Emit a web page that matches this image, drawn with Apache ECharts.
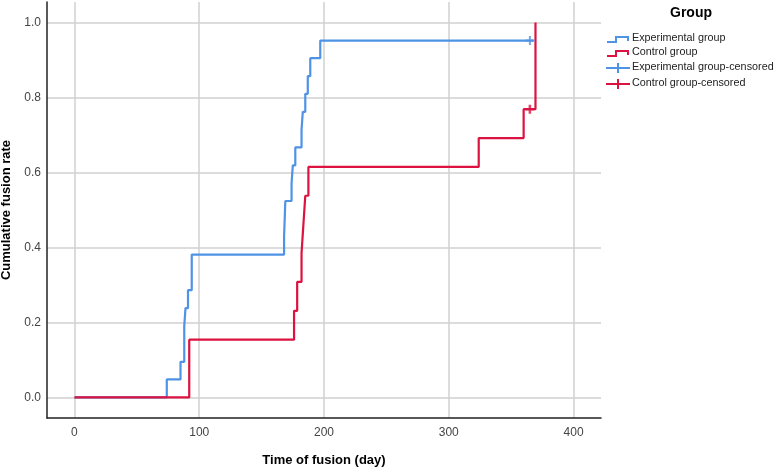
<!DOCTYPE html>
<html>
<head>
<meta charset="utf-8">
<script src="https://cdn.jsdelivr.net/npm/echarts@6/dist/echarts.min.js"></script>
<style>
  html, body { margin: 0; padding: 0; background: #fff; }
  #main { width: 777px; height: 467px; }
</style>
</head>
<body>
<div id="main"></div>
<script>
// Experimental group: event times (day) and cumulative fusion rate after each event
var expTimes = [0, 74, 85, 88, 89, 91, 94, 168, 169, 174, 175, 177, 182, 183, 185, 187, 189, 197, 368]
var expRates = [0, 0.048, 0.095, 0.190, 0.238, 0.286, 0.381, 0.429, 0.524, 0.571, 0.619, 0.667, 0.714, 0.762, 0.810, 0.857, 0.905, 0.952, 0.952]
// Control group
var ctrlTimes = [0, 92, 176, 178.5, 182, 183.5, 185, 187.5, 324, 360, 369.5]
var ctrlRates = [0, 0.154, 0.231, 0.308, 0.385, 0.462, 0.538, 0.615, 0.692, 0.769, 1.0]
// censored cases
var expCensorTimes = [365]
var expCensorRates = [0.952]
var ctrlCensorTimes = [365]
var ctrlCensorRates = [0.769]

var xTicks = [0, 100, 200, 300, 400]
var yTicks = [0, 0.2, 0.4, 0.6, 0.8, 1.0]

var blue = '#4f93e6'
var red = '#dc1340'
var plus = 'path://M0,5 L10,5 M5,0 L5,10'

function pairs(xs, ys) {
  return xs.map(function (x, i) { return [x, ys[i]] })
}

var chart = echarts.init(document.getElementById('main'))
var fontFamily = '"Liberation Sans", Arial, sans-serif'

chart.setOption({
  animation: false,
  textStyle: { fontFamily: fontFamily },
  grid: { left: 47, right: 176, top: 2, bottom: 49, containLabel: false, outerBoundsMode: 'none' },
  xAxis: {
    type: 'value',
    min: -22,
    max: 422,
    name: 'Time of fusion (day)',
    nameLocation: 'middle',
    nameGap: 36,
    nameTextStyle: { fontSize: 13, fontWeight: 'bold', color: '#000' },
    axisLine: { show: true, onZero: false, lineStyle: { color: '#222', width: 1.5 } },
    axisTick: { show: false, customValues: xTicks },
    axisLabel: { customValues: xTicks, color: '#444', fontSize: 12, margin: 9 },
    splitLine: { show: true, lineStyle: { color: '#d0d0d0', width: 1.5 } }
  },
  yAxis: {
    type: 'value',
    min: -0.055,
    max: 1.055,
    name: 'Cumulative fusion rate',
    nameLocation: 'middle',
    nameGap: 30,
    nameTextStyle: { fontSize: 13, fontWeight: 'bold', color: '#000' },
    axisLine: { show: true, onZero: false, lineStyle: { color: '#222', width: 1.5 } },
    axisTick: { show: false, customValues: yTicks },
    axisLabel: {
      customValues: yTicks, color: '#444', fontSize: 12, margin: 6,
      formatter: function (v) { return v.toFixed(1) }
    },
    splitLine: { show: true, lineStyle: { color: '#d0d0d0', width: 1.5 } }
  },
  series: [
    {
      name: 'Experimental group',
      type: 'line',
      step: 'end',
      symbol: 'none',
      data: pairs(expTimes, expRates),
      lineStyle: { color: blue, width: 2.2 },
      z: 3
    },
    {
      name: 'Control group',
      type: 'line',
      step: 'end',
      symbol: 'none',
      data: pairs(ctrlTimes, ctrlRates),
      lineStyle: { color: red, width: 2.2 },
      z: 4
    },
    {
      name: 'Experimental group-censored',
      type: 'scatter',
      symbol: plus,
      symbolSize: 9,
      data: pairs(expCensorTimes, expCensorRates),
      itemStyle: { color: 'none', borderColor: blue, borderWidth: 2 },
      z: 5
    },
    {
      name: 'Control group-censored',
      type: 'scatter',
      symbol: plus,
      symbolSize: 9,
      data: pairs(ctrlCensorTimes, ctrlCensorRates),
      itemStyle: { color: 'none', borderColor: red, borderWidth: 2.5 },
      z: 5
    }
  ],
  graphic: [
    { type: 'text', left: 670, top: 6, style: { text: 'Group', font: 'bold 14px ' + fontFamily, fill: '#000' } },
    // legend rows
    { type: 'polyline', shape: { points: [[607, 42], [616, 42], [616, 37], [628, 37], [628, 41]] }, style: { stroke: blue, lineWidth: 2, fill: null } },
    { type: 'text', left: 632, top: 33, style: { text: 'Experimental group', font: '10.8px ' + fontFamily, fill: '#222' } },
    { type: 'polyline', shape: { points: [[607, 56], [616, 56], [616, 51], [628, 51], [628, 55]] }, style: { stroke: red, lineWidth: 2, fill: null } },
    { type: 'text', left: 632, top: 47, style: { text: 'Control group', font: '10.8px ' + fontFamily, fill: '#222' } },
    { type: 'line', shape: { x1: 606, y1: 68, x2: 630, y2: 68 }, style: { stroke: blue, lineWidth: 2 } },
    { type: 'line', shape: { x1: 618, y1: 63, x2: 618, y2: 73 }, style: { stroke: blue, lineWidth: 2 } },
    { type: 'text', left: 632, top: 62, style: { text: 'Experimental group-censored', font: '10.8px ' + fontFamily, fill: '#222' } },
    { type: 'line', shape: { x1: 606, y1: 84, x2: 630, y2: 84 }, style: { stroke: red, lineWidth: 2 } },
    { type: 'line', shape: { x1: 618, y1: 79, x2: 618, y2: 89 }, style: { stroke: red, lineWidth: 2 } },
    { type: 'text', left: 632, top: 78, style: { text: 'Control group-censored', font: '10.8px ' + fontFamily, fill: '#222' } }
  ]
})
</script>
</body>
</html>
